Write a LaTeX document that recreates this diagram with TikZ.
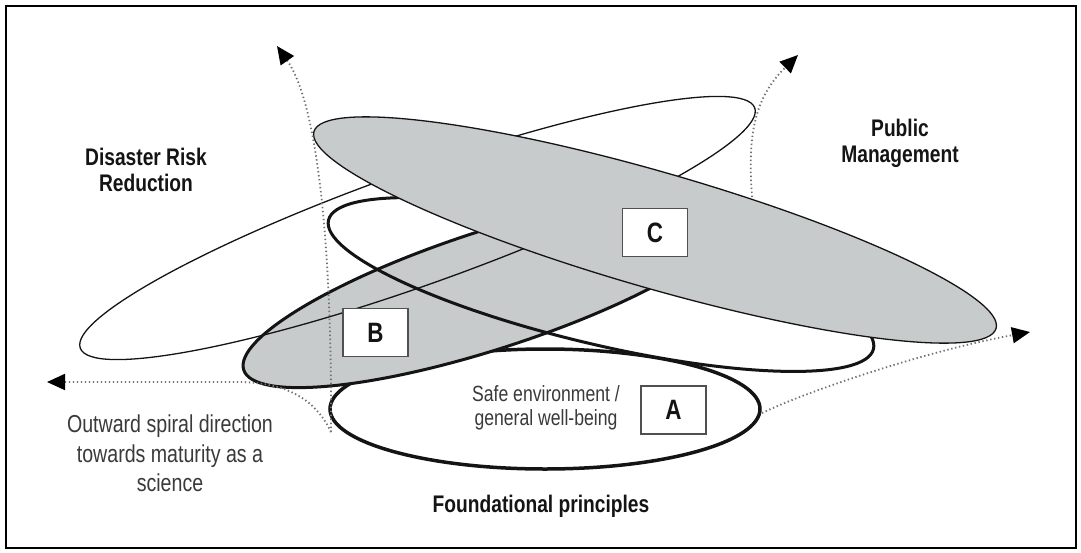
\documentclass[tikz,border=0pt]{standalone}
\usepackage{fontspec}
\setmainfont{Liberation Sans}[FakeStretch=0.8]
\usetikzlibrary{arrows.meta}
\definecolor{lensgray}{RGB}{199,203,203}
\definecolor{spiralgray}{RGB}{115,115,115}
\definecolor{softblack}{RGB}{20,20,20}
\definecolor{textgray}{RGB}{58,58,58}
\definecolor{boxline}{RGB}{80,80,80}
\begin{document}
\begin{tikzpicture}[x=1pt,y=-1pt,
  ring/.style={line width=3pt, draw=softblack},
  thinring/.style={line width=1.3pt, draw=softblack},
  spiral/.style={draw=spiralgray, line width=1.8pt, dash pattern=on 1.4pt off 2.6pt, -{Triangle[length=18pt,width=16pt,black]}},
  letterbox/.style={draw=boxline, line width=1.3pt, fill=white, minimum width=65pt, minimum height=48pt, inner sep=0pt, font=\fontsize{28}{30}\selectfont\bfseries, text=softblack},
  heading/.style={font=\fontsize{24}{26}\selectfont\bfseries, text=softblack, align=center, anchor=base, inner sep=0pt},
  note/.style={align=center, anchor=base, inner sep=0pt, text=textgray}
]
\useasboundingbox (0,0) rectangle (1081,552);
\draw[line width=2pt] (6,6) rectangle (1076,548);

% A: foundational ring
\draw[ring, line width=3.5pt, fill=white, shift={(545,409)}] (0,0) ellipse [x radius=215pt, y radius=60pt];
% D: white ring (fill)
\fill[white, shift={(601,284.5)}, rotate=-13.3] (0,0) ellipse [x radius=280pt, y radius=60pt];
% B: gray ring
\fill[lensgray, shift={(491,289.6)}, rotate=18] (0,0) ellipse [x radius=260pt, y radius=59pt];
\draw[ring, shift={(491,289.6)}, rotate=18] (0,0) ellipse [x radius=260pt, y radius=59pt];
% D outline
\draw[ring, shift={(601,284.5)}, rotate=-13.3] (0,0) ellipse [x radius=280pt, y radius=60pt];
% E: thin open ring
\draw[thinring, shift={(417.5,228)}, rotate=19.6] (0,0) ellipse [x radius=358pt, y radius=57pt];
% C: gray top ring
\draw[thinring, fill=lensgray, shift={(655,230)}, rotate=-16.1] (0,0) ellipse [x radius=355pt, y radius=58pt];

% spiral arrows
\coordinate (spiralroot) at (331,432);
\coordinate (ntip) at (277,46);
\coordinate (wbend) at (241,382);
\coordinate (wtip) at (47,382);
\coordinate (arightend) at (762,413);
\coordinate (etip) at (1030,332);
\coordinate (cedge) at (752,197);
\coordinate (netip) at (798,55);
\draw[spiral] (spiralroot) .. controls (332,280) and (322,110) .. (ntip);
\draw[spiral] (spiralroot) .. controls (315,398) and (285,383) .. (wbend) -- (wtip);
\draw[spiral] (arightend) .. controls (810,390) and (930,350) .. (etip);
\draw[spiral] (cedge) .. controls (748,140) and (752,100) .. (netip);

% letter boxes
\node[letterbox] (boxA) at (673.5,410) {A};
\node[letterbox] (boxB) at (375.5,332.5) {B};
\node[letterbox] (boxC) at (655,232.5) {C};

% labels (base anchor = last line baseline)
\node[heading] (drr) at (146,191) {Disaster Risk\\Reduction};
\node[heading] (pm) at (900,162) {Public\\Management};
\node[heading] (found) at (541,512) {Foundational principles};
\node[note, font=\fontsize{24.5}{29.5}\selectfont] (spiraltext) at (170,491.5) {Outward spiral direction\\towards maturity as a\\science};
\node[note, font=\fontsize{22}{24}\selectfont] (safe) at (546,425) {Safe environment /\\general well-being};
\end{tikzpicture}
\end{document}
